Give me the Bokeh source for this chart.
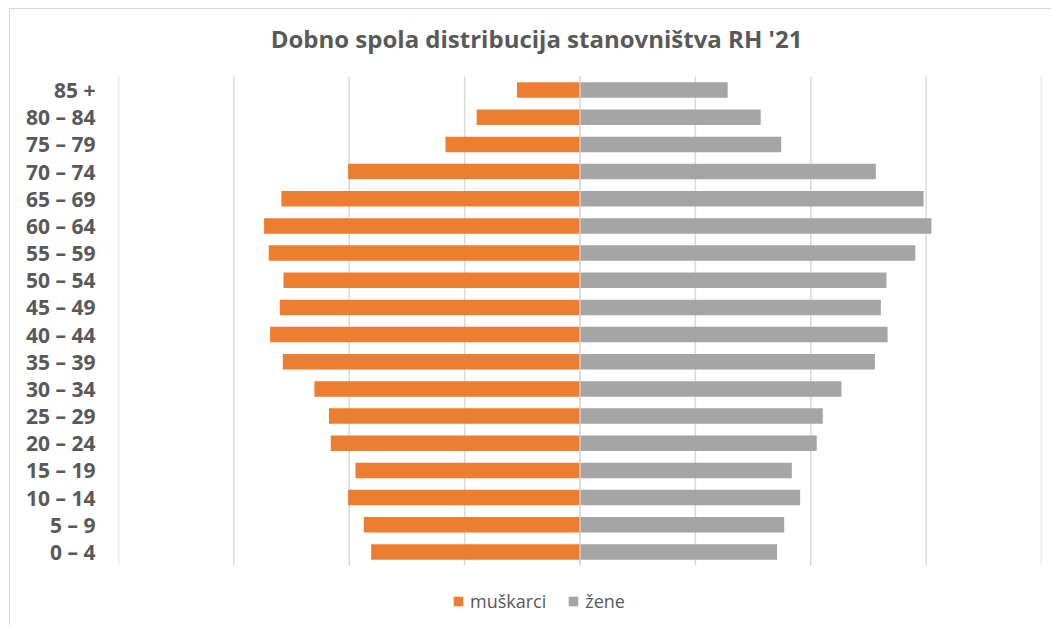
from bokeh.plotting import figure
from bokeh.models import Range1d, FixedTicker, Legend, LegendItem, Label
from bokeh.embed import file_html
from bokeh.resources import INLINE

age_groups = ["0 – 4", "5 – 9", "10 – 14", "15 – 19", "20 – 24", "25 – 29", "30 – 34",
              "35 – 39", "40 – 44", "45 – 49", "50 – 54", "55 – 59", "60 – 64",
              "65 – 69", "70 – 74", "75 – 79", "80 – 84", "85 +"]
muskarci = [90500, 93700, 100500, 97300, 108000, 108800, 115100, 128800, 134300,
            130100, 128500, 134900, 136900, 129400, 100500, 58300, 44800, 27300]
zene = [85400, 88500, 95400, 91800, 102600, 105200, 113300, 127800, 133300,
        130400, 132800, 145300, 152300, 148900, 128200, 87200, 78300, 64000]
grid_ticks = [-200000, -150000, -100000, -50000, 0, 50000, 100000, 150000, 200000]
title_text = "Dobno spola distribucija stanovništva RH '21"

ORANGE = "#ED7D31"
GRAY = "#A5A5A5"
TXT = "#595959"
GRID = "#D9D9D9"

n = len(age_groups)
pos = list(range(n))
top_edge = n - 0.5
bottom_edge = -0.5

W, H = 1042, 617
p = figure(width=W, height=H, output_backend="svg", toolbar_location=None, title=None,
           x_range=Range1d(-200000, 200000),
           y_range=Range1d(bottom_edge - 2.245, top_edge + 2.466),
           min_border_left=108, min_border_right=11, min_border_top=0, min_border_bottom=0)

# grid lines (limited to the bar area)
p.segment(x0=grid_ticks, y0=[bottom_edge] * len(grid_ticks), x1=grid_ticks,
          y1=[top_edge] * len(grid_ticks), line_color=GRID, line_width=1.5)

neg_m = [-v for v in muskarci]
zeros = [0] * n
r1 = p.hbar(y=pos, left=neg_m, right=zeros, height=0.57, fill_color=ORANGE, line_color=None)
r2 = p.hbar(y=pos, left=zeros, right=zene, height=0.57, fill_color=GRAY, line_color=None)

# center axis line
p.segment(x0=[0], y0=[bottom_edge], x1=[0], y1=[top_edge], line_color=GRID, line_width=1.2)

title = Label(text=title_text, x=418, y=H - 29, x_units="screen", y_units="screen",
              text_align="center", text_baseline="middle",
              text_font="Open Sans", text_font_size="24px", text_font_style="bold",
              text_color=TXT)
p.add_layout(title)

p.xaxis.visible = False
p.xgrid.grid_line_color = None
p.ygrid.grid_line_color = None
p.outline_line_color = None

yax = p.yaxis[0]
yax.ticker = FixedTicker(ticks=pos)
yax.major_label_overrides = {i: lab for i, lab in enumerate(age_groups)}
yax.axis_line_color = None
yax.major_tick_line_color = None
yax.minor_tick_line_color = None
yax.major_label_text_font = "Open Sans"
yax.major_label_text_font_size = "21px"
yax.major_label_text_font_style = "bold"
yax.major_label_text_color = TXT
yax.major_label_standoff = 17

legend = Legend(items=[LegendItem(label="muškarci", renderers=[r1]),
                       LegendItem(label="žene", renderers=[r2])],
                orientation="horizontal", location=(334, 13),
                label_text_font="Open Sans", label_text_font_size="18px",
                label_text_color=TXT, glyph_width=12, glyph_height=12, label_height=20,
                border_line_color=None, background_fill_alpha=0,
                spacing=21, label_standoff=6, padding=4, margin=0)
p.add_layout(legend, "center")

p.styles = {"border-top": "1px solid #D9D9D9", "border-left": "1px solid #D9D9D9",
            "margin-left": "9px", "margin-top": "8px"}

open("out.html", "w").write(file_html(p, INLINE))
